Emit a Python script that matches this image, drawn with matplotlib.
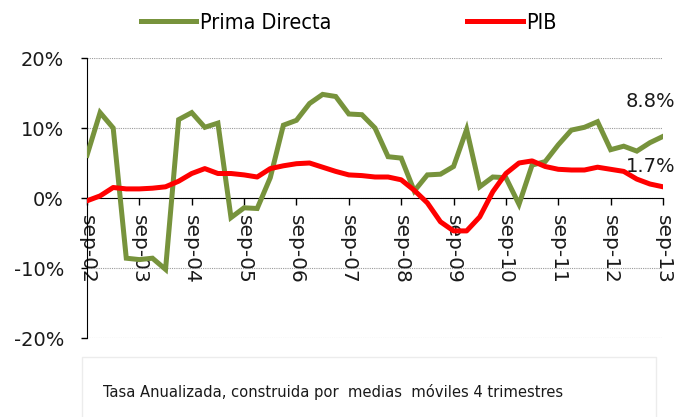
import numpy as np
import matplotlib
matplotlib.use('Agg')
import matplotlib.pyplot as plt
from matplotlib.lines import Line2D
from matplotlib.patches import Rectangle
from matplotlib import font_manager

# trimestres sep-02 .. sep-13
trimestres = []
for a in range(2, 14):
    for m in ['mar', 'jun', 'sep', 'dic']:
        trimestres.append('%s-%02d' % (m, a))
trimestres = trimestres[2:-1]

prima_directa = [6.1, 12.2, 10.0, -8.6, -8.8, -8.6, -10.2, 11.2, 12.2, 10.1,
                 10.7, -2.8, -1.4, -1.5, 2.9, 10.4, 11.1, 13.5, 14.8, 14.5,
                 12.0, 11.9, 10.0, 5.9, 5.7, 1.0, 3.3, 3.4, 4.5, 9.8,
                 1.6, 3.0, 2.9, -0.9, 4.7, 5.2, 7.6, 9.7, 10.1, 10.9,
                 6.9, 7.4, 6.7, 7.9, 8.8]
pib = [-0.4, 0.3, 1.5, 1.3, 1.3, 1.4, 1.6, 2.4, 3.5, 4.2,
       3.5, 3.5, 3.3, 3.0, 4.2, 4.6, 4.9, 5.0, 4.4, 3.8,
       3.3, 3.2, 3.0, 3.0, 2.6, 1.1, -0.7, -3.4, -4.7, -4.7,
       -2.7, 0.9, 3.5, 5.0, 5.3, 4.5, 4.1, 4.0, 4.0, 4.4,
       4.1, 3.8, 2.7, 2.0, 1.6]
etiquetas_fin = ['8.8%', '1.7%']
nota = 'Tasa Anualizada, construida por  medias  móviles 4 trimestres'

verde = '#77933C'
rojo = '#FF0000'
txt = '#1a1a1a'

# fuente estrecha si existe
nombres = set(f.name for f in font_manager.fontManager.ttflist)
if 'Liberation Sans Narrow' in nombres:
    narrow = dict(family='Liberation Sans Narrow')
else:
    narrow = dict(family='DejaVu Sans', stretch='condensed')

x = np.arange(len(trimestres))

fig = plt.figure(figsize=(6.76, 4.17), dpi=100)
ax = fig.add_axes([87 / 676, 79 / 417, 576 / 676, 280 / 417])

ax.spines['top'].set_visible(False)
ax.spines['right'].set_visible(False)
ax.spines['bottom'].set_position(('data', 0))
ax.spines['bottom'].set_zorder(2)

ax.plot(x, prima_directa, color=verde, lw=3.6, solid_joinstyle='miter', zorder=3)
ax.plot(x, pib, color=rojo, lw=3.6, solid_joinstyle='round', zorder=4)

ax.set_xlim(0, len(x) - 1)
ax.set_ylim(-20, 20)
ax.set_yticks([-20, -10, 0, 10, 20])
ax.set_yticklabels(['%d%%' % v for v in [-20, -10, 0, 10, 20]], fontsize=14, color=txt)

pos = [i for i, t in enumerate(trimestres) if t.startswith('sep')]
ax.set_xticks(pos)
ax.set_xticklabels([trimestres[i] for i in pos], rotation=270, fontsize=14.5, color=txt,
                   va='top', ha='center')

ax.tick_params(axis='x', direction='out', length=5, width=1, pad=7)
ax.tick_params(axis='y', direction='out', length=4.5, width=1, pad=12)
ax.grid(axis='y', color='#9a9a9a', linestyle=(0, (1, 1)), linewidth=0.8)
ax.set_axisbelow(True)

# etiquetas finales
ax.annotate(etiquetas_fin[0], (x[-1], prima_directa[-1]), xytext=(12, 35),
            textcoords='offset pixels', ha='right', va='center', fontsize=14, color=txt,
            annotation_clip=False)
ax.annotate(etiquetas_fin[1], (x[-1], pib[-1]), xytext=(12, 20),
            textcoords='offset pixels', ha='right', va='center', fontsize=14, color=txt,
            annotation_clip=False)

handles = [Line2D([], [], color=verde, lw=3.6), Line2D([], [], color=rojo, lw=3.6)]
fig.legend(handles, ['Prima Directa', 'PIB'], loc='center', bbox_to_anchor=(0.5155, 0.945),
           ncol=2, frameon=False, handlelength=2.6, handletextpad=0.15, columnspacing=6.3,
           prop=dict(size=15.5, **narrow))

fig.patches.append(Rectangle((82 / 676, -0.05), 574 / 676, 0.05 + 60 / 417,
                             transform=fig.transFigure, fill=False, edgecolor='#ececec', lw=1))
fig.text(103 / 676, 1 - 392 / 417, nota, fontsize=11.8, color=txt, va='center', **narrow)

fig.savefig('out.png', dpi=100)
